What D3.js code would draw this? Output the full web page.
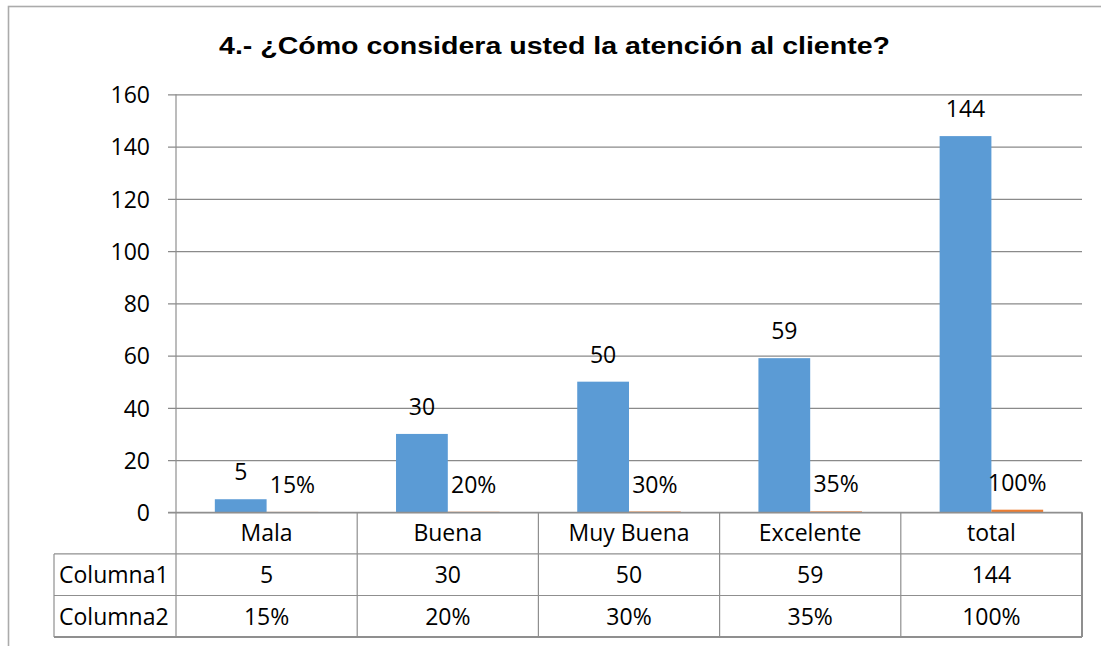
<!DOCTYPE html>
<html>
<head>
<meta charset="utf-8">
<script src="https://cdn.jsdelivr.net/npm/d3@7"></script>
<style>
  html, body { margin: 0; padding: 0; background: #fff; }
  svg { display: block; }
</style>
</head>
<body>
<svg id="chart" width="1101" height="646"></svg>
<script>
const title = "4.- ¿Cómo considera usted la atención al cliente?";
const categories = ["Mala", "Buena", "Muy Buena", "Excelente", "total"];
const seriesNames = ["Columna1", "Columna2"];
const columna1 = [5, 30, 50, 59, 144];
const columna2 = [0.15, 0.20, 0.30, 0.35, 1.00];
const yTicks = [0, 20, 40, 60, 80, 100, 120, 140, 160];

const colors = { Columna1: "#5B9BD5", Columna2: "#ED7D31" };
const pct = d3.format(".0%");
const seriesData = { Columna1: columna1, Columna2: columna2 };
const seriesFmt = { Columna1: d => String(d), Columna2: d => pct(d) };

const svg = d3.select("#chart");
const W = 1101, H = 646;
const plotL = 176, plotR = 1082, plotT = 94.3, plotB = 512.3;
const rowH = 41.6;
const tableL = 54;
const font = "'Open Sans', 'Noto Sans', sans-serif";
const fs = 23;
const gridColor = "#8a8a8a";
const tableColor = "#8f8f8f";

// outer chart border
svg.append("rect")
  .attr("x", 8.5).attr("y", 6.5).attr("width", W + 20).attr("height", H + 20)
  .attr("fill", "none").attr("stroke", "#ababab").attr("stroke-width", 1.6);

// title
svg.append("text")
  .attr("x", 219).attr("y", 54)
  .attr("font-family", "'Liberation Sans', Arial, sans-serif")
  .attr("font-weight", "bold")
  .attr("font-size", 23)
  .attr("textLength", 671)
  .attr("lengthAdjust", "spacingAndGlyphs")
  .attr("fill", "#000")
  .text(title);

const x = d3.scaleBand().domain(categories).range([plotL, plotR]).paddingInner(0).paddingOuter(0);
const xs = d3.scaleBand().domain(seriesNames).range([0, x.bandwidth()]).paddingInner(0).paddingOuter(0.75);
const y = d3.scaleLinear().domain([0, 160]).range([plotB, plotT]);

// gridlines + y axis
const yAxis = d3.axisLeft(y).tickValues(yTicks).tickSize(-(plotR - plotL)).tickPadding(26).tickSizeOuter(0);
const gy = svg.append("g").attr("transform", `translate(${plotL},0)`).call(yAxis);
gy.select(".domain").remove();
gy.selectAll(".tick line").attr("stroke", gridColor).attr("stroke-width", 1.2).attr("x1", -8);
gy.selectAll(".tick text")
  .attr("font-family", font).attr("font-size", fs).attr("fill", "#000")
  .attr("dy", "0.36em");

// vertical axis line (extends through the data table)
svg.append("line")
  .attr("x1", plotL).attr("x2", plotL)
  .attr("y1", plotT).attr("y2", plotB + rowH * 3)
  .attr("stroke", tableColor).attr("stroke-width", 1.2);

// bars
const groups = svg.append("g").selectAll("g")
  .data(categories)
  .join("g")
  .attr("transform", d => `translate(${x(d)},0)`);

seriesNames.forEach(s => {
  groups.append("rect")
    .attr("x", xs(s))
    .attr("width", xs.bandwidth())
    .attr("y", (d, i) => y(seriesData[s][i]))
    .attr("height", (d, i) => y(0) - y(seriesData[s][i]))
    .attr("fill", colors[s]);
  groups.append("text")
    .attr("x", xs(s) + xs.bandwidth() / 2)
    .attr("y", (d, i) => y(seriesData[s][i]) - 19)
    .attr("text-anchor", "middle")
    .attr("font-family", font).attr("font-size", fs).attr("fill", "#000")
    .text((d, i) => seriesFmt[s](seriesData[s][i]));
});

// data table
const tbl = svg.append("g");
const hLines = [
  { y: plotB, x1: plotL - 8 },
  { y: plotB + rowH, x1: tableL },
  { y: plotB + rowH * 2, x1: tableL },
  { y: plotB + rowH * 3, x1: tableL }
];
tbl.selectAll("line.h").data(hLines).join("line")
  .attr("x1", d => d.x1).attr("x2", plotR)
  .attr("y1", d => d.y).attr("y2", d => d.y)
  .attr("stroke", tableColor).attr("stroke-width", (d, i) => i === 3 ? 2 : 1.2);

const vXs = categories.map(c => x(c) + x.bandwidth());
tbl.selectAll("line.v").data(vXs).join("line")
  .attr("x1", d => d).attr("x2", d => d)
  .attr("y1", plotB).attr("y2", plotB + rowH * 3)
  .attr("stroke", tableColor).attr("stroke-width", (d, i) => i === vXs.length - 1 ? 2 : 1.2);
tbl.append("line")
  .attr("x1", tableL).attr("x2", tableL)
  .attr("y1", plotB + rowH).attr("y2", plotB + rowH * 3)
  .attr("stroke", tableColor).attr("stroke-width", 1.2);

// category header row
tbl.selectAll("text.cat").data(categories).join("text")
  .attr("x", d => x(d) + x.bandwidth() / 2)
  .attr("y", plotB + rowH / 2)
  .attr("dy", "0.36em")
  .attr("text-anchor", "middle")
  .attr("font-family", font).attr("font-size", fs).attr("fill", "#000")
  .text(d => d);

// series rows
seriesNames.forEach((s, r) => {
  const cy = plotB + rowH * (r + 1) + rowH / 2;
  tbl.append("text")
    .attr("x", tableL + 5).attr("y", cy).attr("dy", "0.36em")
    .attr("font-family", font).attr("font-size", fs).attr("fill", "#000")
    .text(s);
  tbl.selectAll(null).data(categories).join("text")
    .attr("x", d => x(d) + x.bandwidth() / 2)
    .attr("y", cy).attr("dy", "0.36em")
    .attr("text-anchor", "middle")
    .attr("font-family", font).attr("font-size", fs).attr("fill", "#000")
    .text((d, i) => seriesFmt[s](seriesData[s][i]));
});
</script>
</body>
</html>
